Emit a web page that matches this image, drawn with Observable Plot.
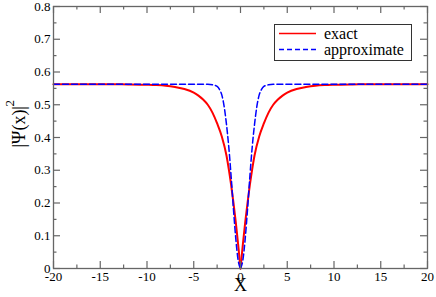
<!DOCTYPE html>
<html><head><meta charset="utf-8">
<script src="https://cdn.jsdelivr.net/npm/d3@7"></script>
<script src="https://cdn.jsdelivr.net/npm/@observablehq/plot@0.6"></script>
<style>
html,body{margin:0;padding:0;background:#fff;}
#wrap{position:relative;width:436px;height:297px;font-family:"Liberation Serif","Times New Roman",serif;}
#wrap svg text{font-family:"Liberation Serif","Times New Roman",serif;}
#legend{position:absolute;left:274px;top:24px;}
</style></head><body><div id="wrap"></div>
<script>
// exact |Psi(x)|^2 (two halves meeting at x = 0)
const xExact = [-20,-14,-12,-10,-9,-8,-7,-6,-5,-4.5,-4,-3.5,-3,-2.5,-2,-1.5,-1.25,-1,-0.75,-0.5,-0.25,0,
                0,0.25,0.5,0.75,1,1.25,1.5,2,2.5,3,3.5,4,4.5,5,6,7,8,9,10,12,14,20];
const yExact = [0.5625,0.5625,0.562,0.561,0.560,0.558,0.554,0.548,0.537,0.528,0.516,0.500,0.476,0.443,0.403,0.345,0.303,0.255,0.200,0.140,0.073,0,
                0,0.073,0.140,0.200,0.255,0.303,0.345,0.403,0.443,0.476,0.500,0.516,0.528,0.537,0.548,0.554,0.558,0.560,0.561,0.562,0.5625,0.5625];
// approximate
const xApprox = [-20,-3.5,-3,-2.5,-2.25,-2,-1.75,-1.5,-1.25,-1,-0.75,-0.5,-0.25,0,
                 0,0.25,0.5,0.75,1,1.25,1.5,1.75,2,2.25,2.5,3,3.5,20];
const yApprox = [0.5625,0.5625,0.561,0.556,0.547,0.530,0.495,0.440,0.370,0.280,0.180,0.090,0.025,0,
                 0,0.025,0.090,0.180,0.280,0.370,0.440,0.495,0.530,0.547,0.556,0.561,0.5625,0.5625];
const xTicks = [-20,-15,-10,-5,0,5,10,15,20];
const xTickLabels = ["-20","-15","-10","-5","0","5","10","15","20"];
const xMinor = [-17.5,-12.5,-7.5,-2.5,2.5,7.5,12.5,17.5];
const yTicks = [0,0.1,0.2,0.3,0.4,0.5,0.6,0.7,0.8];
const yTickLabels = ["0","0.1","0.2","0.3","0.4","0.5","0.6","0.7","0.8"];
const yMinor = [0.05,0.15,0.25,0.35,0.45,0.55,0.65,0.75];
const seriesNames = ["exact","approximate"];

const exact = xExact.map((x,i)=>({x, y:yExact[i], side: i < xExact.length/2 ? "L" : "R"}));
const approx = xApprox.map((x,i)=>({x, y:yApprox[i], side: i < xApprox.length/2 ? "L" : "R"}));

const W = 436, H = 297, mL = 53, mR = 9, mT = 6, mB = 29;
const iW = W - mL - mR, iH = H - mT - mB;
const axisColor = "#666";
const major = 7, minor = 3.5;
const serif = '"Liberation Serif","Times New Roman",serif';

const chart = Plot.plot({
  width: W, height: H,
  marginLeft: mL, marginRight: mR, marginTop: mT, marginBottom: mB,
  style: {fontFamily: serif, background: "#fff", color: "#000"},
  x: {domain: [-20, 20]},
  y: {domain: [0, 0.8]},
  marks: [
    Plot.line(exact, {x: "x", y: "y", z: "side", stroke: "#ff0000", strokeWidth: 2, curve: "monotone-x"}),
    Plot.line(approx, {x: "x", y: "y", z: "side", stroke: "#0000ff", strokeWidth: 1.5, strokeDasharray: "6,3", curve: "monotone-x"}),
    Plot.frame({stroke: axisColor, strokeWidth: 1.3}),
    Plot.tickX(xTicks, {x: d => d, insetTop: iH - major, stroke: axisColor, strokeWidth: 1.2}),
    Plot.tickX(xTicks, {x: d => d, insetBottom: iH - major, stroke: axisColor, strokeWidth: 1.2}),
    Plot.tickX(xMinor, {x: d => d, insetTop: iH - minor, stroke: axisColor, strokeWidth: 1.2}),
    Plot.tickX(xMinor, {x: d => d, insetBottom: iH - minor, stroke: axisColor, strokeWidth: 1.2}),
    Plot.tickY(yTicks, {y: d => d, insetRight: iW - major, stroke: axisColor, strokeWidth: 1.2}),
    Plot.tickY(yTicks, {y: d => d, insetLeft: iW - major, stroke: axisColor, strokeWidth: 1.2}),
    Plot.tickY(yMinor, {y: d => d, insetRight: iW - minor, stroke: axisColor, strokeWidth: 1.2}),
    Plot.tickY(yMinor, {y: d => d, insetLeft: iW - minor, stroke: axisColor, strokeWidth: 1.2}),
    Plot.axisX({ticks: xTicks, tickSize: 0, tickPadding: 3, fontSize: 13, fontFamily: serif, label: null,
                tickFormat: d => xTickLabels[xTicks.indexOf(d)]}),
    Plot.axisY({ticks: yTicks, tickSize: 0, tickPadding: 3, fontSize: 13, fontFamily: serif, label: null,
                tickFormat: d => yTickLabels[yTicks.findIndex(t => Math.abs(t - d) < 1e-9)]}),
    Plot.text(["X"], {frameAnchor: "bottom", dy: 22, fontSize: 18, fontFamily: serif, fill: "#000"}),
    Plot.text(["|Ψ(x)|"], {frameAnchor: "left", dx: -34, dy: 10, rotate: -90, fontSize: 18, fontFamily: serif, fill: "#000"}),
    Plot.text(["2"], {frameAnchor: "left", dx: -44, dy: -31, rotate: -90, fontSize: 13, fontFamily: serif, fill: "#000"})
  ]
});
document.getElementById("wrap").appendChild(chart);

// legend
const ns = "http://www.w3.org/2000/svg";
const leg = document.createElementNS(ns, "svg");
leg.setAttribute("id", "legend");
leg.setAttribute("width", 138);
leg.setAttribute("height", 37);
leg.innerHTML = `
  <rect x="0.5" y="0.5" width="137" height="36" fill="#fff" stroke="#333" stroke-width="1"/>
  <line x1="5" x2="42" y1="9.5" y2="9.5" stroke="#ff0000" stroke-width="1.5"/>
  <line x1="5" x2="42" y1="25.5" y2="25.5" stroke="#0000ff" stroke-width="1.5" stroke-dasharray="5,3"/>
  <text x="50" y="9.5" dy="0.35em" font-size="16" font-family="Liberation Serif, serif">${seriesNames[0]}</text>
  <text x="50" y="25.5" dy="0.35em" font-size="16" font-family="Liberation Serif, serif">${seriesNames[1]}</text>`;
document.getElementById("wrap").appendChild(leg);
</script>
</body></html>
